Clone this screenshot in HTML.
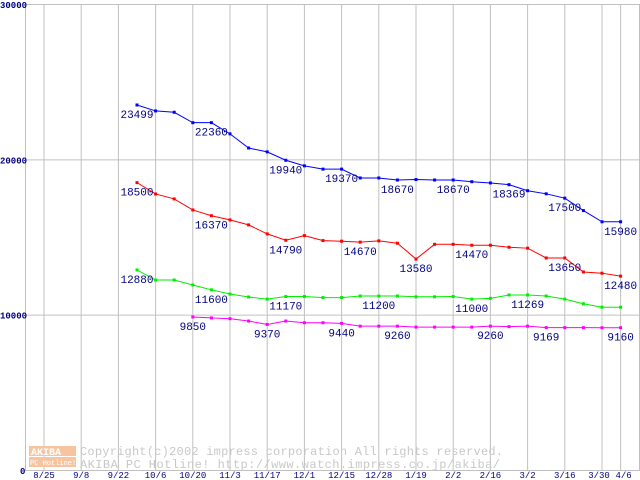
<!DOCTYPE html>
<html><head><meta charset="utf-8"><style>
body{margin:0;background:#fff}
svg{display:block}
text{font-family:"Liberation Mono","DejaVu Sans Mono",monospace}
</style></head><body>
<svg id="chart" width="640" height="480"></svg>
<script>
const xLabels=["8/25","9/8","9/22","10/6","10/20","11/3","11/17","12/1","12/15","12/28","1/19","2/2","2/16","3/2","3/16","3/30","4/6"];
const xLabelWeeks=[0,2,4,6,8,10,12,14,16,18,20,22,24,26,28,30,31];
const yTicks=[0,10000,20000,30000];
const weeks=[5,6,7,8,9,10,11,12,13,14,15,16,17,18,19,20,21,22,23,24,25,26,27,28,29,30,31];
const blueVals=[23499,23116,23030,22360,22360,21640,20730,20480,19940,19580,19370,19370,18800,18800,18670,18700,18670,18670,18560,18480,18369,17980,17780,17500,16700,15980,15980];
const redVals=[18500,17770,17450,16740,16370,16100,15780,15200,14790,15090,14770,14730,14670,14750,14600,13580,14530,14530,14470,14470,14340,14280,13650,13650,12750,12670,12480];
const greenVals=[12880,12230,12230,11910,11600,11330,11140,11000,11170,11170,11100,11100,11200,11200,11200,11150,11150,11170,11000,11050,11269,11269,11200,11000,10700,10480,10480];
const magentaWeeks=[8,9,10,11,12,13,14,15,16,17,18,19,20,21,22,23,24,25,26,27,28,29,30,31];
const magentaVals=[9850,9790,9740,9590,9370,9590,9480,9480,9440,9260,9260,9260,9200,9200,9200,9200,9260,9230,9260,9169,9165,9165,9160,9160];
const blueLabels=[5,9,13,16,19,22,25,28,31];
const redLabels=[5,9,13,17,20,23,28,31];
const greenLabels=[5,9,13,18,23,26];
const magentaLabels=[8,12,16,19,24,27,31];

const NS="http://www.w3.org/2000/svg";
const svg=document.getElementById('chart');
const X=w=>44+w*18.6;
const Y=v=>470-v*466/30000;
function el(t,a,p){const e=document.createElementNS(NS,t);for(const k in a)e.setAttribute(k,a[k]);(p||svg).appendChild(e);return e;}

const grid=el('g',{});


xLabelWeeks.forEach(w=>{el('line',{x1:X(w),x2:X(w),y1:4,y2:470,stroke:'#c0c0c0'},grid);});
el('line',{x1:639.5,x2:639.5,y1:4,y2:470,stroke:'#c0c0c0'},grid);
yTicks.forEach(v=>{el('line',{x1:25,x2:640,y1:Y(v)+0.5,y2:Y(v)+0.5,stroke:'#c0c0c0'},grid);});
el('line',{x1:25.5,x2:25.5,y1:4,y2:470,stroke:'#c0c0c0'},grid);

const wm=el('g',{});


el('rect',{x:29,y:446,width:47,height:10,fill:'#f7c4a0'},wm);
el('rect',{x:29,y:457,width:47,height:10,fill:'#f7c4a0'},wm);
let t=el('text',{x:31,y:455,'font-size':10,fill:'#fff','font-weight':'bold'},wm);t.textContent='AKIBA';
t=el('text',{x:30,y:465,'font-size':7,fill:'#fff'},wm);t.textContent='PC Hotline!';
t=el('text',{x:80,y:455,'font-size':12,fill:'#c8c8c8',textLength:423,lengthAdjust:'spacing'},wm);t.textContent='Copyright(c)2002 impress corporation All rights reserved.';
t=el('text',{x:80,y:468,'font-size':12,fill:'#c8c8c8',textLength:420,lengthAdjust:'spacing'},wm);t.textContent='AKIBA PC Hotline!  http://www.watch.impress.co.jp/akiba/';

yTicks.forEach(v=>{
  const e=el('text',{x:v===0?20:0,y:v===30000?8:Y(v)+4,'font-size':9,fill:'#000080','font-weight':'bold'});
  
  
  e.textContent=String(v);
});
xLabels.forEach((s,i)=>{
  const w=xLabelWeeks[i];
  const e=el('text',{x:X(w)+(i===15?-3:i===16?3:0),y:478,'font-size':9,fill:'#000080','text-anchor':'middle'});
  
  
  e.textContent=s;
});

function series(name,ws,vals,color,labels){
  const g=el('g',{});
  
  
  el('polyline',{points:ws.map((w,i)=>X(w)+','+Y(vals[i])).join(' '),fill:'none',stroke:color,'stroke-width':1},g);
  ws.forEach((w,i)=>{
    const r=el('rect',{x:X(w)-1.5,y:Y(vals[i])-1.5,width:3,height:3,fill:color},g);
    
    
  });
  labels.forEach(w=>{
    const i=ws.indexOf(w);
    const e=el('text',{x:X(w),y:Y(vals[i])+13,'font-size':11,fill:'#000080','text-anchor':'middle'},g);
    
    
    e.textContent=String(vals[i]);
  });
}
series('blue-series',weeks,blueVals,'#0000ff',blueLabels);
series('red-series',weeks,redVals,'#ff0000',redLabels);
series('green-series',weeks,greenVals,'#00ee00',greenLabels);
series('magenta-series',magentaWeeks,magentaVals,'#ff00ff',magentaLabels);
</script>
</body></html>
